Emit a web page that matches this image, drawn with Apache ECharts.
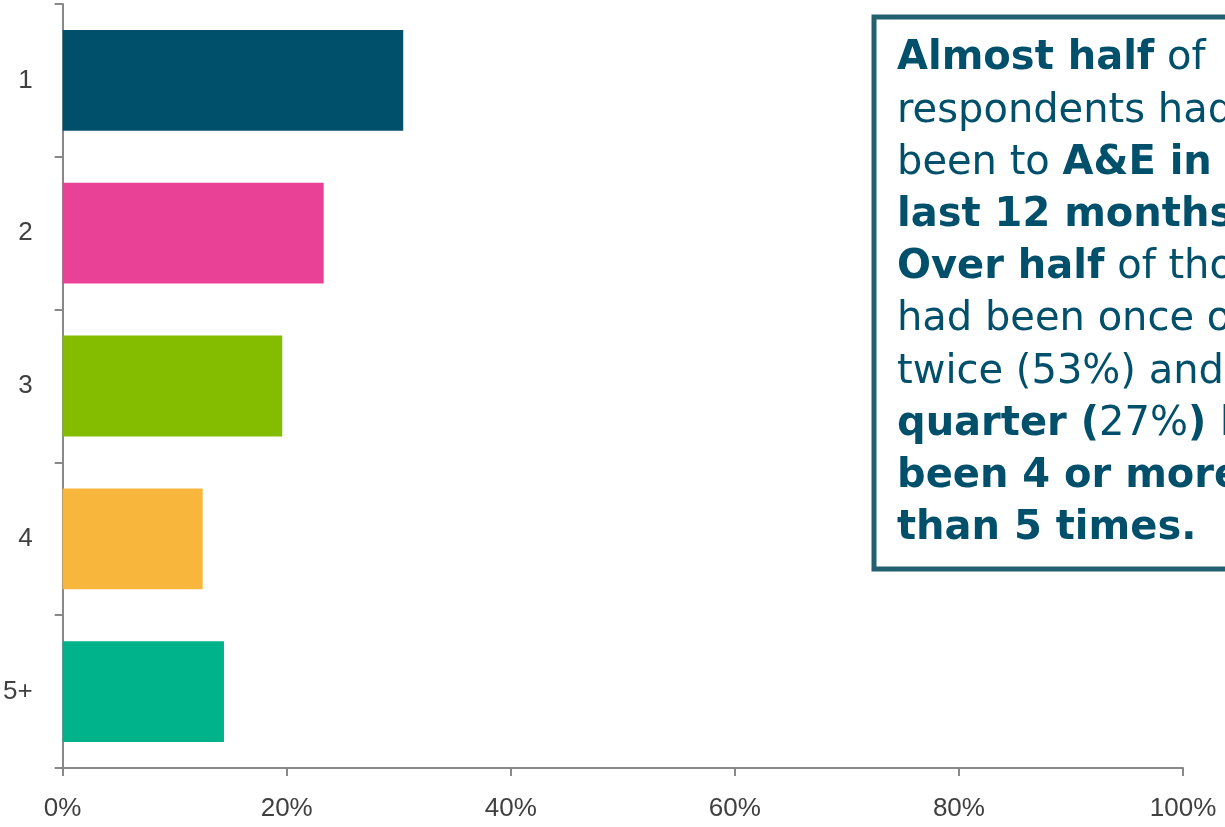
<!DOCTYPE html>
<html>
<head>
<meta charset="utf-8">
<style>
  html, body { margin: 0; padding: 0; background: #ffffff; }
  #chart { width: 1225px; height: 827px; }
</style>
<script src="https://cdn.jsdelivr.net/npm/echarts@6/dist/echarts.min.js"></script>
</head>
<body>
<div id="chart"></div>
<script>
// Number of A&E visits in the last 12 months (share of those who had been)
const categories = ['1', '2', '3', '4', '5+'];
const shares = [30.4, 23.3, 19.6, 12.5, 14.4];
const barColors = ['#004F6B', '#E84196', '#84BC00', '#F8B73C', '#00B38A'];
const xTicks = [0, 20, 40, 60, 80, 100];

// Callout text, one entry per line; each part is [style, text]
const calloutLines = [
  [['b', 'Almost half'], ['n', ' of']],
  [['n', 'respondents had']],
  [['n', 'been to '], ['b', 'A&E in the']],
  [['b', 'last 12 months.']],
  [['b', 'Over half'], ['n', ' of those']],
  [['n', 'had been once or']],
  [['n', 'twice (53%) and a']],
  [['b', 'quarter ('], ['n', '27%'], ['b', ') had']],
  [['b', 'been 4 or more']],
  [['b', 'than 5 times.']]
];

const axisGrey = '#898989';
const labelGrey = '#404040';
const calloutBlue = '#004F6B';
const calloutFont = '"DejaVu Sans", "Open Sans", sans-serif';

const chart = echarts.init(document.getElementById('chart'));

const calloutText = calloutLines
  .map(line => line.map(([s, t]) => '{' + s + '|' + t + '}').join(''))
  .join('\n');

chart.setOption({
  animation: false,
  grid: { left: 62, right: 42, top: 4, bottom: 59, containLabel: false },
  xAxis: {
    type: 'value',
    min: 0,
    max: 100,
    interval: 20,
    axisLine: { show: true, lineStyle: { color: axisGrey, width: 2 } },
    axisTick: { show: true, length: 8, lineStyle: { color: axisGrey, width: 2 } },
    splitLine: { show: false },
    axisLabel: {
      margin: 28,
      fontFamily: '"Liberation Sans", Arial, sans-serif',
      fontSize: 26,
      color: labelGrey,
      formatter: v => xTicks.includes(v) ? v + '%' : ''
    }
  },
  yAxis: {
    type: 'category',
    data: categories,
    inverse: true,
    axisLine: { show: true, lineStyle: { color: axisGrey, width: 2 } },
    axisTick: { show: true, length: 8, lineStyle: { color: axisGrey, width: 2 } },
    axisLabel: {
      margin: 30,
      fontFamily: '"Liberation Sans", Arial, sans-serif',
      fontSize: 26,
      color: labelGrey
    }
  },
  series: [{
    type: 'bar',
    barCategoryGap: '34%',
    data: shares.map((v, i) => ({ value: v, itemStyle: { color: barColors[i] } }))
  }],
  graphic: [
    {
      type: 'rect',
      shape: { x: 874, y: 17, width: 400, height: 552 },
      style: { fill: '#ffffff', stroke: '#23606F', lineWidth: 5 },
      z: 10
    },
    {
      type: 'text',
      left: 897,
      top: 39,
      z: 11,
      style: {
        text: calloutText,
        rich: {
          b: { fontFamily: calloutFont, fontWeight: 'bold', fontSize: 40, lineHeight: 52.2, fill: calloutBlue },
          n: { fontFamily: calloutFont, fontWeight: 'normal', fontSize: 40, lineHeight: 52.2, fill: calloutBlue }
        }
      }
    }
  ]
});
</script>
</body>
</html>
